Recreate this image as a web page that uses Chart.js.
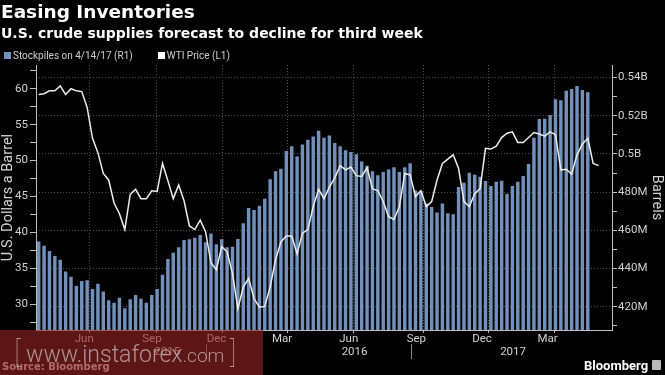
<!DOCTYPE html>
<html>
<head>
<meta charset="utf-8">
<title>Easing Inventories</title>
<script src="https://cdn.jsdelivr.net/npm/chart.js@4.4.1/dist/chart.umd.min.js"></script>
<style>
  body { margin: 0; background: #000; }
  #box { position: relative; width: 665px; height: 375px; background: #000; overflow: hidden; }
  #chart { position: absolute; left: 0; top: 0; }
  .hd { position: absolute; left: 1px; color: #fff; font-family: "DejaVu Sans", sans-serif; font-weight: bold; white-space: nowrap; line-height: 1; }
  #title { top: 3px; font-size: 18.5px; }
  #sub { top: 26px; font-size: 14px; }
  #legend { position: absolute; left: 4px; top: 49px; height: 12px; display: flex; align-items: center; font: 10px Roboto, sans-serif; color: #cfcfcf; white-space: nowrap; }
  #legend .item { display: flex; align-items: center; margin-right: 25px; }
  #legend .sw { width: 7px; height: 7px; margin-right: 2px; }
  #source { position: absolute; left: 2px; top: 362px; font: bold 10px "DejaVu Sans", sans-serif; color: #ddd; line-height: 1; }
  #brand { position: absolute; left: 584px; top: 359px; font: bold 13px Roboto, sans-serif; color: #fff; line-height: 1; }
  #brand .ic { position: absolute; left: 68px; top: 1px; width: 9px; height: 10px; background: #bbb; border-radius: 1px; }
  #wm { position: absolute; left: 0; top: 330px; width: 263px; height: 45px; background: rgba(150, 35, 35, 0.62); color: rgba(205, 190, 190, 0.75); font-family: Roboto, sans-serif; font-weight: 300; white-space: nowrap; }
  #wm .t { position: absolute; left: 14px; top: 7px; font-size: 23px; line-height: 1; }
  #wm .t small { font-size: 19px; }
  #wm .b { font-size: 30px; font-weight: 100; }
</style>
</head>
<body>
<div id="box">
  <canvas id="chart" width="665" height="375"></canvas>
  <div id="title" class="hd">Easing Inventories</div>
  <div id="sub" class="hd">U.S. crude supplies forecast to decline for third week</div>
  <div id="legend"></div>
  <div id="source">Source: Bloomberg</div>
  <div id="brand">Bloomberg<span class="ic"></span></div>
  <div id="wm"><div class="t"><span class="b">[</span> www.instaforex<small>.com</small> <span class="b">]</span></div></div>
</div>
<script>
// weekly categories, first bar is the week of 1 May 2015, last bar 14 Apr 2017
const weeks = [];
const firstWeek = Date.UTC(2015, 4, 1);
for (let i = 0; i < 107; i++) {
  weeks.push(new Date(firstWeek + i * 7 * 86400000).toISOString().slice(0, 10));
}

// crude stockpiles, million barrels (R1)
const stockpiles = [
  454.2, 451.9, 449.2, 446.5, 444.6, 438.5, 435.7, 430.8, 433.5, 433.8,
  429.3, 432.0, 427.9, 423.4, 422.1, 424.7, 419.2, 423.9, 426.1, 424.2,
  422.1, 426.1, 429.3, 436.8, 445.0, 448.3, 451.1, 454.9, 455.3, 456.1,
  457.5, 453.7, 458.4, 452.7, 455.3, 451.1, 451.4, 455.4, 463.7, 471.7,
  470.6, 472.9, 476.5, 486.7, 490.9, 492.3, 501.5, 504.0, 498.7, 505.0,
  507.4, 509.2, 512.1, 508.5, 509.7, 505.7, 504.1, 501.9, 501.0, 499.9,
  496.1, 493.8, 491.0, 488.8, 490.5, 491.9, 493.0, 490.5, 493.0, 495.1,
  480.9, 480.6, 474.1, 472.2, 469.4, 474.1, 468.9, 468.4, 482.7, 484.9,
  490.2, 489.1, 488.1, 485.8, 483.2, 485.4, 486.0, 479.2, 483.2, 485.4,
  488.4, 494.7, 508.5, 518.3, 518.4, 520.4, 528.6, 528.2, 533.1, 534.0,
  535.6, 533.5, 532.3
];

// WTI price, dollars a barrel (L1)
const wtiPrice = [
  59.2, 59.3, 59.7, 59.7, 60.4, 59.2, 60.0, 59.7, 59.6, 57.4,
  53.1, 51.1, 48.2, 47.3, 44.1, 42.6, 40.4, 45.3, 46.0, 44.7,
  44.7, 45.8, 45.7, 49.6, 47.2, 44.7, 46.6, 44.4, 40.9, 40.4,
  41.7, 40.1, 35.8, 34.8, 38.0, 37.3, 34.3, 29.4, 32.4, 33.6,
  30.8, 29.6, 29.7, 32.4, 36.2, 38.7, 39.5, 39.5, 37.0, 39.9,
  40.4, 43.6, 46.0, 44.7, 46.3, 47.6, 49.3, 48.7, 49.1, 47.9,
  47.8, 49.0, 46.1, 45.8, 44.3, 42.2, 41.8, 43.6, 48.2, 48.0,
  45.0, 45.8, 43.6, 44.3, 47.3, 49.6, 50.2, 50.8, 48.9, 44.3,
  43.6, 45.4, 46.1, 51.7, 51.6, 52.0, 53.2, 53.8, 54.0, 52.5,
  52.5, 53.2, 53.9, 53.7, 53.4, 54.0, 53.6, 48.7, 48.8, 48.1,
  50.8, 52.3, 53.1, 49.6, 49.3
];

// axis ticks (positions on the week index)
const monthTickPos = [5.5, 18.9, 31.7, 44.7, 57.9, 71.3, 84.3, 97.3];
const monthTickLabels = ["Jun", "Sep", "Dec", "Mar", "Jun", "Sep", "Dec", "Mar"];
const monthGridPos = [7.5, 20.7, 33.9, 46.7, 59.7, 74.0, 87.0, 99.9];
const yearTickPos = [16.6, 60.1, 96.9];
const yearTickLabels = ["2015", "2016", "2017"];
const yearBreakPos = [34.7, 86.7];
const priceTicks = [27.5, 30, 32.5, 35, 37.5, 40, 42.5, 45, 47.5, 50, 52.5, 55, 57.5, 60, 62.5];
const barrelTicks = [410, 420, 430, 440, 450, 460, 470, 480, 490, 500, 510, 520, 530, 540];

const barColor = "#7191ba";
const lineColor = "#ececec";
const axisGrey = "#bdbdbd";
const gridGrey = "#4f4f4f";
const labelGrey = "#d2d2d2";
const tickFont = { family: "Roboto", size: 11.5 };

const setTicks = (values) => (axis) => {
  axis.ticks = values.slice().sort((a, b) => a - b).map((v) => ({ value: v }));
};

const ctx = document.getElementById("chart").getContext("2d");
const chart = new Chart(ctx, {
  type: "bar",
  data: {
    labels: weeks,
    datasets: [
      {
        type: "line",
        label: "WTI Price (L1)",
        data: wtiPrice,
        yAxisID: "y",
        borderColor: lineColor,
        backgroundColor: "#ffffff",
        borderWidth: 1.5,
        pointRadius: 0,
        tension: 0,
        order: 0,
      },
      {
        label: "Stockpiles on 4/14/17 (R1)",
        data: stockpiles,
        yAxisID: "y2",
        backgroundColor: barColor,
        barPercentage: 0.64,
        categoryPercentage: 1,
        order: 1,
      },
    ],
  },
  options: {
    responsive: false,
    animation: false,
    layout: { padding: { top: 65, bottom: 15, left: 0, right: 0 } },
    plugins: { legend: { display: false }, tooltip: { enabled: false } },
    scales: {
      x: { type: "category", offset: true, display: false },
      xt: {
        type: "linear",
        position: "bottom",
        weight: 0,
        min: -0.5,
        max: 106.5,
        afterBuildTicks: setTicks(monthTickPos.concat(monthGridPos)),
        afterFit: (s) => { s.height = 14; },
        grid: {
          drawOnChartArea: true,
          tickLength: 3,
          color: (c) => (c.tick && monthGridPos.includes(c.tick.value) ? gridGrey : "transparent"),
          tickColor: (c) => (c.tick && monthGridPos.includes(c.tick.value) ? axisGrey : "transparent"),
        },
        border: { display: true, color: axisGrey, dash: [1, 2] },
        ticks: {
          color: labelGrey,
          font: tickFont,
          padding: -1,
          autoSkip: false,
          maxRotation: 0,
          callback: (v) => {
            const k = monthTickPos.indexOf(v);
            return k < 0 ? "" : monthTickLabels[k];
          },
        },
      },
      xy: {
        type: "linear",
        position: "bottom",
        weight: 1,
        min: -0.5,
        max: 106.5,
        afterBuildTicks: setTicks(yearTickPos.concat(yearBreakPos)),
        afterFit: (s) => { s.height = 16; },
        grid: {
          drawOnChartArea: false,
          tickLength: 15,
          color: "transparent",
          tickColor: (c) => (c.tick && yearBreakPos.includes(c.tick.value) ? "#8a8a8a" : "transparent"),
        },
        border: { display: false },
        ticks: {
          color: labelGrey,
          font: tickFont,
          padding: -13.6,
          autoSkip: false,
          maxRotation: 0,
          callback: (v) => {
            const k = yearTickPos.indexOf(v);
            return k < 0 ? "" : yearTickLabels[k];
          },
        },
      },
      y: {
        type: "linear",
        position: "left",
        min: 26.42,
        max: 63.3,
        afterBuildTicks: setTicks(priceTicks),
        afterFit: (s) => { s.width = 36; },
        grid: { drawOnChartArea: false, tickLength: 6, tickColor: axisGrey },
        border: { display: true, color: axisGrey },
        ticks: {
          color: labelGrey,
          font: tickFont,
          padding: 2,
          autoSkip: false,
          callback: (v) => (v % 5 === 0 ? v : ""),
        },
        title: {
          display: true,
          text: "U.S. Dollars a Barrel",
          color: labelGrey,
          font: { family: "Roboto", size: 14.5 },
          padding: 0,
        },
      },
      y2: {
        type: "linear",
        position: "right",
        min: 407.8,
        max: 546.6,
        afterBuildTicks: setTicks(barrelTicks),
        afterFit: (s) => { s.width = 53; },
        grid: {
          drawOnChartArea: true,
          tickLength: 5,
          color: (c) => (c.tick && c.tick.value % 20 === 0 ? gridGrey : "transparent"),
          tickColor: axisGrey,
        },
        border: { display: true, color: axisGrey, dash: [1, 2] },
        ticks: {
          color: labelGrey,
          font: tickFont,
          padding: 1,
          autoSkip: false,
          callback: (v) => (v % 20 !== 0 ? "" : v >= 500 ? v / 1000 + "B" : v + "M"),
        },
        title: {
          display: true,
          text: "Barrels",
          color: labelGrey,
          font: { family: "Roboto", size: 14.5 },
          padding: 0,
        },
      },
    },
  },
});

// html legend built from the datasets (bars first, like the original)
const legendBox = document.getElementById("legend");
chart.data.datasets.slice().reverse().forEach((ds) => {
  const item = document.createElement("div");
  item.className = "item";
  const sw = document.createElement("span");
  sw.className = "sw";
  sw.style.background = ds.backgroundColor;
  item.appendChild(sw);
  item.appendChild(document.createTextNode(ds.label));
  legendBox.appendChild(item);
});
</script>
</body>
</html>
